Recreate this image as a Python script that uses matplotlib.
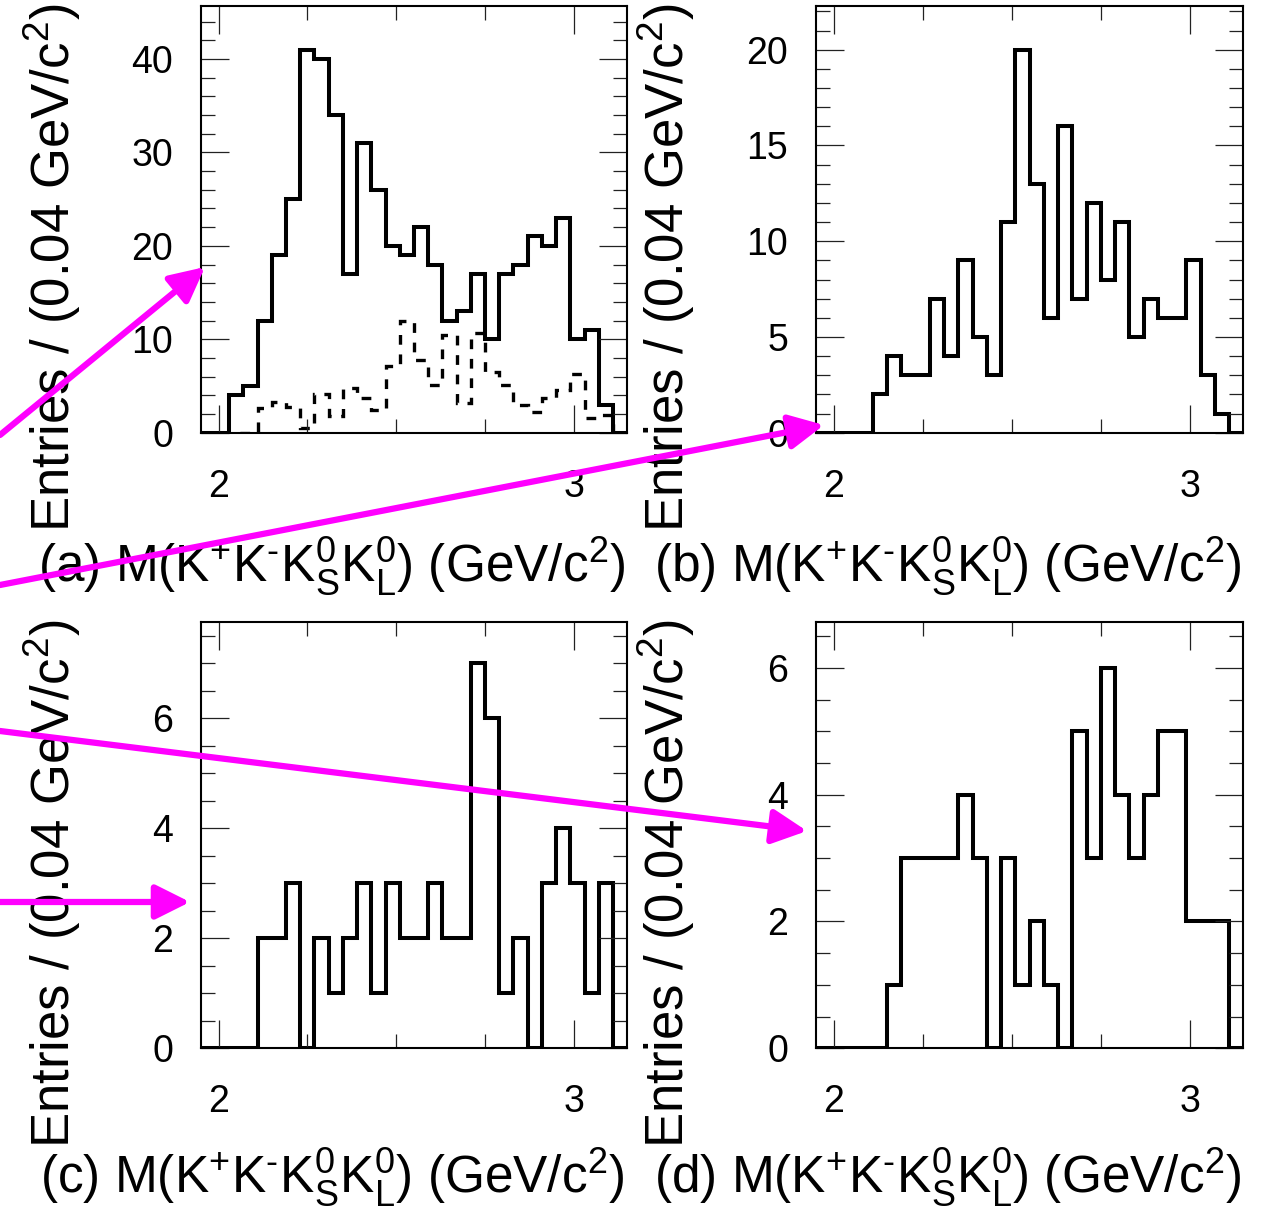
import numpy as np
import matplotlib
matplotlib.use("Agg")
import matplotlib.pyplot as plt
from matplotlib.patches import FancyArrowPatch
from matplotlib.ticker import MultipleLocator, FixedLocator

plt.rcParams['font.family'] = ['Liberation Sans', 'DejaVu Sans']
plt.rcParams['mathtext.fontset'] = 'custom'
plt.rcParams['mathtext.rm'] = 'Liberation Sans'
plt.rcParams['mathtext.it'] = 'Liberation Sans'
plt.rcParams['mathtext.bf'] = 'Liberation Sans:bold'
plt.rcParams['lines.scale_dashes'] = False

# 30 bins of 0.04 GeV/c^2 starting at 1.95
mass_lo = 1.95
bin_width = 0.04
n_bins = 30

counts_a = [0, 0, 4, 5, 12, 19, 25, 41, 40, 34, 17, 31, 26, 20, 19,
            22, 18, 12, 13, 17, 10, 17, 18, 21, 20, 23, 10, 11, 3, 0]
# dashed histogram in (a) (scaled background)
bkg_a = [0, 0, 0, 0, 2.6, 3.3, 2.7, 0.5, 4.1, 1.8, 4.8, 3.7, 2.4, 7.1, 12.0,
         7.8, 5.1, 10.5, 3.2, 10.7, 6.5, 5.1, 3.0, 2.2, 3.7, 4.6, 6.3, 1.6, 1.9, 0]
counts_b = [0, 0, 0, 0, 2, 4, 3, 3, 7, 4, 9, 5, 3, 11, 20,
            13, 6, 16, 7, 12, 8, 11, 5, 7, 6, 6, 9, 3, 1, 0]
counts_c = [0, 0, 0, 0, 2, 2, 3, 0, 2, 1, 2, 3, 1, 3, 2,
            2, 3, 2, 2, 7, 6, 1, 2, 0, 3, 4, 3, 1, 3, 0]
counts_d = [0, 0, 0, 0, 0, 1, 3, 3, 3, 3, 4, 3, 0, 3, 1,
            2, 1, 0, 5, 3, 6, 4, 3, 4, 5, 5, 2, 2, 2, 0]

panel_tags = ['(a)', '(b)', '(c)', '(d)']
y_max = [45.7, 22.3, 7.76, 6.73]
y_major = [10, 5, 2, 2]
y_minor = [2, 1, 0.5, 0.5]
x_major = [2, 3]
x_minor = [2.25, 2.5, 2.75]

edges = mass_lo + bin_width * np.arange(n_bins + 1)

W, H = 1261, 1211
fig = plt.figure(figsize=(W / 100, H / 100), dpi=100)

# axes rectangles (figure fraction)
rects = [[0.1592, 0.6427, 0.3382, 0.3526],
         [0.6469, 0.6427, 0.3392, 0.3526],
         [0.1592, 0.1344, 0.3382, 0.3523],
         [0.6469, 0.1344, 0.3392, 0.3523]]
# baseline of the x title, in axes fraction (bottom row a bit higher so subscripts fit)
xlab_y = [-0.35, -0.35, -0.338, -0.338]

xlab = r' M(K$^{+}$K$^{\text{-}}$K$^{0}_{S}$K$^{0}_{L}$) (GeV/c$^{2}$)'
ylab = r'Entries / (0.04 GeV/c$^{2}$)'

all_counts = [counts_a, counts_b, counts_c, counts_d]
for i, counts in enumerate(all_counts):
    ax = fig.add_axes(rects[i])
    st = ax.stairs(counts, edges, color='black', lw=2.9, baseline=0)
    st.set_joinstyle('miter')
    if i == 0:
        ax.stairs(bkg_a, edges, color='black', lw=2.4, baseline=0,
                  linestyle=(0, (7, 7)))
    ax.set_xlim(edges[0], edges[-1])
    ax.set_ylim(0, y_max[i])
    ax.xaxis.set_major_locator(FixedLocator(x_major))
    ax.xaxis.set_minor_locator(FixedLocator(x_minor))
    ax.yaxis.set_major_locator(MultipleLocator(y_major[i]))
    ax.yaxis.set_minor_locator(MultipleLocator(y_minor[i]))
    ax.set_xticklabels([str(v) for v in x_major])
    ax.tick_params(which='both', direction='in', top=True, right=True,
                   width=0.9, color='#222222', labelsize=27)
    ax.tick_params(which='major', length=20)
    ax.tick_params(which='minor', length=10)
    ax.tick_params(axis='x', which='major', pad=26)
    ax.tick_params(axis='y', which='major', pad=20)
    for sp in ax.spines.values():
        sp.set_linewidth(1.5)
    ax.text(0.995, xlab_y[i], panel_tags[i] + xlab, transform=ax.transAxes,
            ha='right', va='baseline', fontsize=37, clip_on=False)
    ax.text(-0.349, 1.005, ylab, transform=ax.transAxes, rotation=90,
            ha='center', va='top', fontsize=38, clip_on=False)

# magenta arrows drawn on top (pixel coords from top-left)
arrows = [((0, 435), (205, 267)),
          ((0, 585), (824, 425)),
          ((0, 731), (807, 831)),
          ((0, 902), (190, 902))]
for (x0, y0), (x1, y1) in arrows:
    arr = FancyArrowPatch((x0 / W, 1 - y0 / H), (x1 / W, 1 - y1 / H),
                          transform=fig.transFigure,
                          arrowstyle='-|>,head_length=21,head_width=10.5',
                          mutation_scale=1, lw=4.5, color='#ff00ff',
                          shrinkA=0, shrinkB=0, zorder=10)
    fig.add_artist(arr)

fig.savefig('out.png', dpi=100, facecolor='white')
